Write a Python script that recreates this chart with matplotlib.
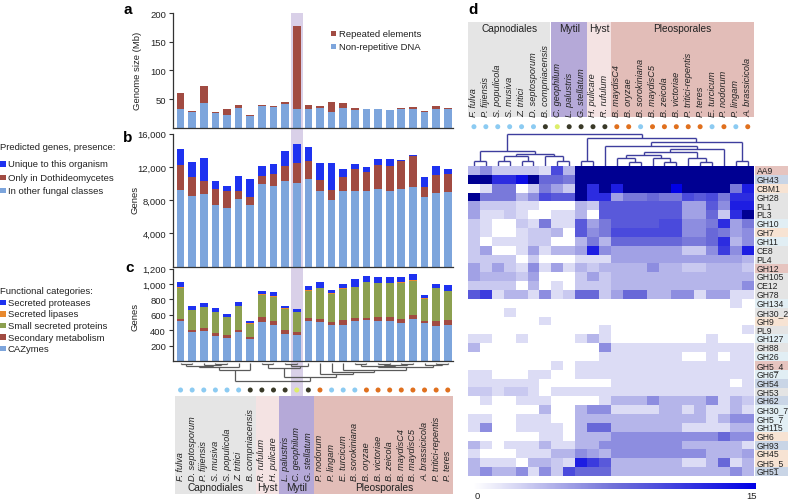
import numpy as np
import matplotlib
matplotlib.use('Agg')
import matplotlib.pyplot as plt
from matplotlib.patches import Rectangle
from matplotlib.colors import LinearSegmentedColormap
from matplotlib.ticker import FuncFormatter

plt.rcParams['font.family'] = ['Liberation Sans', 'DejaVu Sans']

W, H = 788, 502

# ---------------- panels a-c (phylogenetic order) ----------------
species_abc = ['F. fulva', 'D. septosporum', 'P. fijiensis', 'S. musiva', 'S. populicola', 'Z. tritici',
               'B. compniacensis', 'R. rufulum', 'H. pulicare', 'L. palustris', 'C. geophilum',
               'G. stellatum', 'P. nodorum', 'P. lingam', 'E. turcicum', 'B. sorokiniana', 'B. oryzae',
               'B. victoriae', 'B. zeicola', 'B. maydisC4', 'B. maydisC5', 'A. brassicicola',
               'P. tritici-repentis', 'P. teres']
life_abc = ['b', 'b', 'b', 'b', 'b', 'b', 'k', 'k', 'k', 'k', 'y', 'k',
            'o', 'b', 'b', 'b', 'o', 'o', 'o', 'o', 'o', 'o', 'o', 'o']
groups_abc = [('Capnodiales', 0, 6), ('Hyst', 7, 8), ('Mytil', 9, 11), ('Pleosporales', 12, 23)]

genome_total = [60.6, 29.4, 73.5, 28, 33, 39, 22, 40, 37.6, 45, 178, 40,
                37, 44.7, 43, 34, 31.8, 33, 31, 33.5, 36, 29.4, 37.6, 33.5]
genome_nonrep = [32, 26.5, 43, 25, 22, 33.5, 19.5, 38, 36, 42, 32, 32,
                 34, 27.6, 35, 30.6, 31.8, 33, 31, 31.8, 33, 26.5, 32, 32.5]

genes_other = [9240, 8520, 8680, 7440, 7080, 8080, 7400, 9920, 9720, 10320, 10120, 10520,
               9120, 8000, 9040, 9160, 9040, 9320, 9160, 9320, 9640, 8320, 8840, 8920]
genes_dothideo = [3000, 2240, 1600, 1960, 2040, 1040, 960, 1040, 1400, 1760, 2400, 2160,
                  1320, 1240, 1760, 2560, 2400, 2960, 2920, 3360, 3640, 1320, 2200, 2280]
genes_unique = [1880, 1840, 2840, 880, 640, 1840, 2200, 1200, 1280, 1800, 2280, 1720,
                2000, 3280, 1000, 600, 600, 640, 840, 120, 120, 1120, 1080, 600]

cazymes = [513, 383, 396, 330, 304, 374, 287, 505, 474, 352, 344, 513,
           505, 474, 474, 513, 526, 513, 513, 496, 539, 492, 461, 470]
sec_metab = [35, 26, 30, 31, 31, 26, 22, 69, 39, 48, 30, 44,
             43, 31, 52, 44, 31, 52, 57, 52, 53, 26, 57, 56]
ssp = [400, 252, 274, 274, 235, 313, 178, 287, 318, 279, 261, 356,
       396, 365, 409, 400, 465, 444, 439, 465, 451, 291, 426, 379]
lipases = [8, 6, 6, 6, 6, 6, 5, 8, 8, 6, 6, 8, 8, 8, 8, 8, 8, 8, 8, 8, 8, 6, 8, 8]
proteases = [74, 44, 44, 49, 35, 53, 23, 41, 57, 35, 36, 49,
             78, 48, 61, 100, 70, 70, 70, 66, 75, 36, 52, 74]

# phylogeny below panel c: (left, right, height in px below the leaves)
phylo_cap = ((((0, 1, 1), (2, (3, 4, 0.8), 1.5), 2.5), 5, 4), 6, 6.5)
phylo_mid = ((7, 8, 1), ((9, 10, 1), 11, 2.5), 5)
phylo_rest = (((15, 16, 0.8), ((17, 18, 0.8), (19, 20, 0.8), 1.5), 2.5), (21, (22, 23, 0.8), 1.5), 4)
phylo_pleo = (12, (13, (14, phylo_rest, 6.5), 8.5), 10.5)
phylo = (phylo_cap, (phylo_mid, phylo_pleo, 14), 17.5)

# ---------------- panel d ----------------
species_d = ['F. fulva', 'P. fijiensis', 'S. populicola', 'S. musiva', 'Z. tritici', 'D. septosporum',
             'B. compniacensis', 'C. geophilum', 'L. palustris', 'G. stellatum', 'H. pulicare',
             'R. rufulum', 'B. maydisC4', 'B. oryzae', 'B. sorokiniana', 'B. maydisC5', 'B. zeicola',
             'B. victoriae', 'P. tritici-repentis', 'P. teres', 'E. turcicum', 'P. nodorum',
             'P. lingam', 'A. brassicicola']
life_d = ['b', 'b', 'b', 'b', 'b', 'b', 'k', 'y', 'k', 'k', 'k', 'k',
          'o', 'o', 'b', 'o', 'o', 'o', 'o', 'o', 'b', 'o', 'b', 'o']
groups_d = [('Capnodiales', 0, 6), ('Mytil', 7, 9), ('Hyst', 10, 11), ('Pleosporales', 12, 23)]

families = ['AA9', 'GH43', 'CBM1', 'GH28', 'PL1', 'PL3', 'GH10', 'GH7', 'GH11', 'CE8', 'PL4', 'GH12',
            'GH105', 'CE12', 'GH78', 'GH134', 'GH30_2', 'GH9', 'PL9', 'GH127', 'GH88', 'GH26',
            'GH5_4', 'GH67', 'GH54', 'GH53', 'GH62', 'GH30_7', 'GH5_7', 'GH115', 'GH6', 'GH93',
            'GH45', 'GH5_5', 'GH51']
family_class = ['s', 'b', 'p', 'g', 'g', 'g', 'c', 'p', 'c', 'g', 'g', 's', 'g', 'g', 'g', 'c', 'g',
                'p', 'g', 'c', 'g', 'c', 's', 'c', 'b', 'g', 'b', 'c', 'c', 'c', 'p', 'b', 'p', 'p', 'b']

counts = [
    [4, 6, 3, 3, 3, 3, 2, 10, 4, 20, 20, 20, 20, 20, 20, 20, 20, 20, 20, 20, 20, 20, 20, 20],
    [18, 18, 12, 12, 14, 16, 8, 8, 7, 20, 20, 20, 20, 20, 20, 20, 20, 20, 20, 20, 20, 20, 20, 20],
    [0, 2, 7, 7, 0, 3, 7, 5, 3, 16, 12, 16, 13, 16, 16, 16, 16, 15, 16, 16, 16, 16, 7, 13],
    [18, 7, 7, 7, 4, 6, 10, 9, 9, 17, 12, 12, 5, 7, 7, 8, 7, 7, 10, 9, 10, 7, 12, 12],
    [5, 3, 3, 3, 2, 2, 0, 0, 0, 4, 3, 9, 9, 9, 9, 9, 9, 9, 5, 5, 9, 6, 13, 13],
    [5, 2, 2, 3, 2, 0, 0, 2, 2, 4, 0, 9, 9, 9, 9, 9, 9, 9, 5, 5, 8, 3, 12, 16],
    [3, 2, 0, 0, 3, 2, 7, 2, 2, 9, 5, 7, 9, 9, 9, 9, 10, 10, 6, 6, 7, 12, 5, 7],
    [3, 2, 0, 0, 2, 3, 3, 4, 0, 9, 6, 7, 10, 10, 10, 10, 10, 10, 6, 6, 8, 7, 5, 6],
    [3, 0, 2, 2, 2, 3, 3, 0, 0, 4, 7, 4, 8, 8, 8, 8, 8, 8, 7, 7, 8, 12, 4, 6],
    [3, 5, 0, 0, 2, 5, 2, 4, 4, 5, 13, 6, 5, 5, 5, 5, 5, 5, 3, 3, 6, 11, 6, 13],
    [3, 3, 3, 3, 0, 3, 0, 0, 0, 2, 2, 2, 5, 5, 5, 5, 5, 5, 5, 5, 5, 5, 5, 4],
    [5, 3, 5, 3, 2, 6, 2, 5, 2, 4, 3, 4, 4, 4, 4, 6, 4, 4, 3, 3, 4, 4, 4, 3],
    [5, 4, 4, 4, 3, 5, 0, 0, 0, 3, 5, 3, 4, 4, 4, 4, 4, 4, 4, 4, 4, 4, 4, 4],
    [3, 3, 3, 3, 0, 4, 0, 2, 0, 3, 3, 3, 4, 4, 4, 4, 4, 4, 4, 4, 4, 4, 4, 6],
    [9, 11, 2, 4, 4, 2, 6, 2, 3, 8, 8, 3, 5, 8, 8, 4, 4, 6, 6, 2, 5, 5, 2, 2],
    [0, 0, 0, 0, 0, 0, 0, 0, 0, 0, 0, 0, 0, 0, 0, 0, 0, 0, 0, 0, 0, 0, 2, 0],
    [0, 0, 0, 2, 0, 0, 0, 0, 0, 0, 0, 0, 0, 0, 0, 0, 0, 0, 0, 0, 0, 0, 0, 0],
    [0, 0, 0, 0, 0, 0, 2, 0, 0, 0, 0, 0, 0, 0, 0, 0, 0, 0, 0, 0, 0, 0, 0, 0],
    [0, 0, 0, 0, 0, 0, 0, 0, 0, 0, 0, 2, 0, 0, 0, 0, 0, 0, 0, 0, 0, 0, 0, 2],
    [2, 2, 0, 0, 2, 0, 0, 0, 0, 2, 4, 2, 0, 0, 0, 0, 0, 0, 0, 0, 2, 0, 0, 0],
    [4, 0, 0, 0, 0, 0, 0, 0, 0, 0, 0, 6, 2, 2, 2, 2, 2, 2, 2, 2, 2, 2, 2, 2],
    [0, 0, 0, 0, 0, 0, 0, 0, 0, 0, 0, 2, 2, 2, 2, 2, 2, 2, 0, 0, 2, 0, 2, 2],
    [0, 0, 0, 0, 0, 0, 0, 2, 0, 2, 2, 2, 2, 2, 2, 2, 2, 2, 2, 2, 2, 2, 2, 2],
    [2, 2, 0, 0, 0, 2, 2, 0, 0, 2, 2, 2, 2, 2, 2, 2, 2, 2, 2, 2, 2, 2, 2, 2],
    [2, 2, 2, 2, 2, 2, 0, 0, 0, 0, 0, 0, 2, 2, 2, 2, 2, 2, 2, 2, 2, 2, 0, 2],
    [3, 3, 2, 3, 3, 2, 0, 2, 2, 2, 2, 2, 2, 2, 2, 2, 2, 2, 2, 2, 2, 2, 2, 2],
    [0, 2, 0, 0, 2, 2, 2, 0, 0, 0, 0, 2, 4, 4, 4, 6, 4, 4, 4, 4, 6, 2, 4, 3],
    [0, 0, 0, 0, 0, 0, 4, 0, 0, 4, 6, 6, 2, 2, 2, 2, 4, 4, 2, 4, 2, 2, 4, 2],
    [2, 2, 0, 0, 2, 2, 2, 0, 0, 4, 4, 4, 4, 4, 4, 4, 4, 4, 4, 4, 2, 4, 6, 6],
    [2, 6, 0, 0, 2, 2, 2, 2, 0, 4, 8, 8, 4, 4, 4, 4, 4, 4, 2, 2, 2, 2, 4, 4],
    [0, 0, 0, 0, 0, 0, 2, 2, 0, 4, 4, 4, 6, 6, 6, 6, 6, 6, 6, 6, 6, 8, 6, 6],
    [4, 2, 0, 2, 2, 2, 4, 2, 2, 4, 4, 6, 6, 6, 6, 6, 6, 6, 4, 4, 4, 4, 4, 2],
    [2, 0, 0, 0, 2, 2, 2, 4, 4, 6, 5, 4, 6, 6, 6, 6, 6, 6, 6, 6, 4, 4, 4, 5],
    [4, 2, 2, 2, 0, 4, 4, 3, 2, 13, 11, 9, 4, 4, 4, 4, 4, 4, 2, 2, 4, 8, 2, 4],
    [4, 6, 4, 4, 6, 2, 6, 3, 10, 8, 8, 8, 4, 4, 4, 4, 4, 4, 4, 4, 4, 4, 6, 4],
]

# column clustering above the heatmap: (left, right, height in px above heatmap)
dend_left = ((0, 1, 5), (((2, 3, 5), (4, 5, 5), 10), (6, (7, 8, 5), 10), 12.3), 15.5)
dend_z = ((((12, (13, 14, 4.6), 8), (15, (16, 17, 4.6), 8), 11), (18, (19, 20, 4.6), 8), 14))
dend_right = ((9, 10, 5.6), ((11, ((dend_z, 21, 17.3)), 20.6), (22, 23, 5.6), 24.6), 28)
dend_d = (dend_left, dend_right, 32)

# ---------------- styling ----------------
c_light = '#7DA5DC'
c_red = '#A14B42'
c_blue = '#1E32F0'
c_green = '#8CA050'
c_orange = '#E8892E'
dot_colors = {'b': '#8CCBF2', 'k': '#3A3A28', 'y': '#DDEE6A', 'o': '#E0701E'}
group_bg = {'Capnodiales': '#E5E5E5', 'Hyst': '#F4E3E3', 'Mytil': '#B5A9D8', 'Pleosporales': '#E2BDB8'}
label_bg = {'s': '#E6C4BF', 'b': '#C9D5E6', 'p': '#F7E3D3', 'g': '#E4E4E4', 'c': '#E1EEF4'}
fs = 6.8

fig = plt.figure(figsize=(W / 100, H / 100), dpi=100)


def px_axes(x0, y0, x1, y1):
    return fig.add_axes([x0 / W, 1 - y1 / H, (x1 - x0) / W, (y1 - y0) / H])


def fig_text(x, y, s, **kw):
    return fig.text(x / W, 1 - y / H, s, **kw)


def draw_tree(ax, node, to_y, **kw):
    if isinstance(node, int):
        return node, 0
    left, right, h = node
    xl, hl = draw_tree(ax, left, to_y, **kw)
    xr, hr = draw_tree(ax, right, to_y, **kw)
    ax.plot([xl, xl], [to_y(hl), to_y(h)], **kw)
    ax.plot([xr, xr], [to_y(hr), to_y(h)], **kw)
    ax.plot([xl, xr], [to_y(h), to_y(h)], **kw)
    return (xl + xr) / 2, h


def style_bar_axes(ax, ymax, ticks):
    ax.set_facecolor('none')
    ax.set_xlim(-0.65, 23.45)
    ax.set_ylim(0, ymax)
    ax.set_xticks([])
    ax.set_yticks(ticks)
    ax.yaxis.set_major_formatter(FuncFormatter(lambda v, p: f'{int(v):,}'))
    for s in ['top', 'right']:
        ax.spines[s].set_visible(False)
    for s in ['left', 'bottom']:
        ax.spines[s].set_color('#333333')
        ax.spines[s].set_linewidth(0.9)
    ax.tick_params(axis='y', length=3, width=0.8, color='#333333', labelsize=fs, pad=2, labelcolor='#222222')


# highlight band for C. geophilum
fig.patches.append(Rectangle((290.7 / W, 1 - 397 / H), 12 / W, 383 / H, transform=fig.transFigure,
                             facecolor='#D9D0E8', edgecolor='none', zorder=-1))

x = np.arange(len(species_abc))
bw = 0.66

# panel a
ax_a = px_axes(173, 14.3, 453, 128.6)
nonrep = np.array(genome_nonrep)
repeated = np.array(genome_total) - nonrep
ax_a.bar(x, nonrep, bw, color=c_light)
ax_a.bar(x, repeated, bw, bottom=nonrep, color=c_red)
style_bar_axes(ax_a, 200, [50, 100, 150, 200])
for i, (lab, col) in enumerate([('Repeated elements', c_red), ('Non-repetitive DNA', c_light)]):
    y = 34.3 + i * 12.7
    fig.patches.append(Rectangle((331 / W, 1 - (y + 2.5) / H), 5 / W, 5 / H, transform=fig.transFigure,
                                 facecolor=col, edgecolor='none'))
    fig_text(339, y, lab, fontsize=fs, va='center', ha='left', color='#222222')

# panel b
ax_b = px_axes(173, 134.6, 453, 267.7)
other = np.array(genes_other)
dothi = np.array(genes_dothideo)
ax_b.bar(x, other, bw, color=c_light)
ax_b.bar(x, dothi, bw, bottom=other, color=c_red)
ax_b.bar(x, genes_unique, bw, bottom=other + dothi, color=c_blue)
style_bar_axes(ax_b, 16000, [4000, 8000, 12000, 16000])

# panel c
ax_c = px_axes(173, 269.6, 453, 362)
bottom = np.zeros(len(x))
for vals, col in [(cazymes, c_light), (sec_metab, c_red), (ssp, c_green), (lipases, c_orange),
                  (proteases, c_blue)]:
    ax_c.bar(x, vals, bw, bottom=bottom, color=col)
    bottom = bottom + np.array(vals)
style_bar_axes(ax_c, 1200, [200, 400, 600, 800, 1000, 1200])

# labels of panels a-c
fig_text(128, 10, 'a', fontsize=11, fontweight='bold', ha='center', va='center')
fig_text(128, 138, 'b', fontsize=11, fontweight='bold', ha='center', va='center')
fig_text(130, 268, 'c', fontsize=11, fontweight='bold', ha='center', va='center')
fig_text(468, 10, 'd', fontsize=11, fontweight='bold', ha='left', va='center')
fig_text(138, 71, 'Genome size (Mb)', fontsize=fs, rotation=90, ha='center', va='center', color='#222222')
fig_text(135, 200, 'Genes', fontsize=fs, rotation=90, ha='center', va='center', color='#222222')
fig_text(135, 317, 'Genes', fontsize=fs, rotation=90, ha='center', va='center', color='#222222')

# left legends
def left_legend(title, y_title, items, y0, step):
    fig_text(0, y_title, title, fontsize=fs, ha='left', va='center', color='#222222')
    for i, (lab, col) in enumerate(items):
        y = y0 + i * step
        fig.patches.append(Rectangle((0, 1 - (y + 2.7) / H), 5.5 / W, 5.4 / H, transform=fig.transFigure,
                                     facecolor=col, edgecolor='none'))
        fig_text(8, y, lab, fontsize=fs, ha='left', va='center', color='#222222')


left_legend('Predicted genes, presence:', 148,
            [('Unique to this organism', c_blue), ('Only in Dothideomycetes', c_red),
             ('In other fungal classes', c_light)], 165, 13.2)
left_legend('Functional categories:', 291,
            [('Secreted proteases', c_blue), ('Secreted lipases', c_orange),
             ('Small secreted proteins', c_green), ('Secondary metabolism', c_red), ('CAZymes', c_light)],
            303.3, 11.6)

# phylogeny, dots and species names under panel c
ax_low = px_axes(173, 362, 453, 502)
ax_low.set_xlim(-0.65, 23.45)
ax_low.set_ylim(502, 362)
ax_low.axis('off')
draw_tree(ax_low, phylo, lambda h: 364 + h, color='#5A5A5A', lw=0.9, solid_capstyle='butt')
ax_low.scatter(x, np.full(len(x), 391), s=13, c=[dot_colors[c] for c in life_abc], linewidths=0)
for name, i0, i1 in groups_abc:
    ax_low.add_patch(Rectangle((i0 - 0.5 if i0 else -0.45, 396.7), i1 - i0 + 1 - (0 if i0 else 0.05), 98.3,
                               facecolor=group_bg[name], edgecolor='none', zorder=0))
    ax_low.text((i0 + i1) / 2, 488, name, fontsize=7.3, ha='center', va='center', color='#222222')
for i, name in enumerate(species_abc):
    ax_low.text(i, 481, name, rotation=90, fontsize=6.6, style='italic', ha='center', va='bottom',
                color='#222222')

# panel d header: groups, species, dots, dendrogram
ax_hdr = px_axes(468, 0, 753.7, 167.3)
ax_hdr.set_xlim(-0.5, 23.5)
ax_hdr.set_ylim(167.3, 0)
ax_hdr.axis('off')
for name, i0, i1 in groups_d:
    ax_hdr.add_patch(Rectangle((i0 - 0.5 - (0.1 if i0 == 0 else 0), 22.7), i1 - i0 + 1, 95.6,
                               facecolor=group_bg[name], edgecolor='none', zorder=0))
    ax_hdr.text((i0 + i1) / 2, 29.5, name, fontsize=7.3, ha='center', va='center', color='#222222')
xd = np.arange(len(species_d))
for i, name in enumerate(species_d):
    ax_hdr.text(i, 117, name, rotation=90, fontsize=6.6, style='italic', ha='center', va='bottom',
                color='#222222')
ax_hdr.scatter(xd, np.full(len(xd), 127.7), s=13, c=[dot_colors[c] for c in life_d], linewidths=0)
draw_tree(ax_hdr, dend_d, lambda h: 167.3 - h, color='#3E3E9E', lw=1.0, solid_capstyle='butt')

# heatmap
cmap = LinearSegmentedColormap.from_list(
    'wb', [(0, '#FFFFFF'), (0.15, '#D8D8F4'), (0.5, '#7070D8'), (1.0, '#0000E6')])
cmap.set_over('#000092')
ax_hm = px_axes(468, 167.3, 753.7, 477.1)
im = ax_hm.imshow(np.array(counts), cmap=cmap, vmin=0, vmax=15, aspect='auto', interpolation='nearest')
ax_hm.axis('off')
for r, (fam, cls) in enumerate(zip(families, family_class)):
    ax_hm.add_patch(Rectangle((23.62, r - 0.5), 2.8, 1, facecolor=label_bg[cls], edgecolor='none',
                              clip_on=False))
    ax_hm.text(23.75, r, fam, fontsize=6.2, ha='left', va='center', color='#222222', clip_on=False)

cax = px_axes(473, 484, 756, 490)
cb = fig.colorbar(im, cax=cax, orientation='horizontal')
cb.outline.set_visible(False)
cax.set_xticks([])
fig_text(477, 497, '0', fontsize=fs, ha='center', va='center', color='#222222')
fig_text(752, 497, '15', fontsize=fs, ha='center', va='center', color='#222222')

fig.savefig('out.png', dpi=100)
